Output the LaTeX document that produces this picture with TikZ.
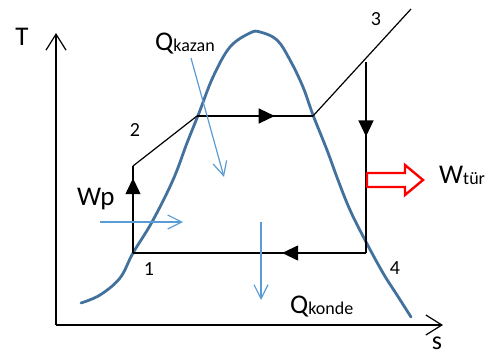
\documentclass[tikz,border=0pt]{standalone}
\usepackage{fontspec}
\setmainfont{Carlito}
\usetikzlibrary{arrows.meta,decorations.markings}
\definecolor{domeblue}{HTML}{41719C}
\definecolor{heatblue}{HTML}{5B9BD5}
\newcommand{\bigtxt}[1]{{\fontsize{27}{29}\selectfont #1}}
\newcommand{\smltxt}[1]{{\fontsize{18}{20}\selectfont #1}}
\begin{document}
\begin{tikzpicture}[x=1pt,y=-1pt,
    cyc/.style={line width=1.2pt,black},
    axis/.style={line width=1.2pt,-{Straight Barb[length=16pt,width=20pt,line width=1.2pt]}},
    heat/.style={heatblue,line width=1.2pt,-{Straight Barb[length=14pt,width=14pt,line width=1.2pt]}},
    midarrow/.style={postaction={decorate},decoration={markings,
        mark=at position #1 with {\arrow{Triangle[length=16pt,width=15pt]}}}},
    num/.style={font=\fontsize{20}{22}\selectfont}]
    \useasboundingbox (0,0) rectangle (496,356);
    % axes
    \coordinate (O) at (56,325);
    \coordinate (Ttop) at (56,33);
    \coordinate (send) at (443,325);
    \draw[axis] (O) -- (Ttop);
    \draw[axis] (O) -- (send);
    \node (Tlbl) at (22,37) {\bigtxt{T}};
    \node[anchor=base,inner sep=0] (slbl) at (437,349) {{\fontsize{26}{26}\selectfont s}};
    % dome
    \draw[domeblue,line width=2.8pt,line cap=round] plot[smooth,tension=0.6] coordinates {
        (81,303) (100,295) (120,278) (133,253) (152,222) (173,180) (187,143)
        (199,113) (213,77) (230,47) (250,33) (260,32) (277,40) (290,60) (303,87)
        (313,115) (327,150) (338,180) (350,210) (365,240) (383,273) (397,295) (411,317)};
    % cycle
    \coordinate (p1) at (133,253);
    \coordinate (p2) at (133,166);
    \coordinate (pf) at (197,116);
    \coordinate (pg) at (313,116);
    \coordinate (p3) at (411,9);
    \coordinate (p3t) at (366,62);
    \coordinate (p4) at (366,253);
    \draw[cyc,midarrow=0.86] (p1) -- (p2);
    \draw[cyc] (p2) -- (pf);
    \draw[cyc,midarrow=0.67] (pf) -- (pg);
    \draw[cyc] (pg) -- (p3);
    \draw[cyc,midarrow=0.39] (p3t) -- (p4);
    \draw[cyc,midarrow=0.36] (p4) -- (p1);
    \node[num] (n1) at (149,269) {1};
    \node[num] (n2) at (135,130) {2};
    \node[num] (n3) at (376,19) {3};
    \node[num] (n4) at (395,268) {4};
    % heat and work
    \coordinate (qk1) at (191,58);
    \coordinate (qk2) at (224,177);
    \coordinate (qp1) at (100,222);
    \coordinate (qp2) at (183,222);
    \coordinate (qc1) at (261,222);
    \coordinate (qc2) at (261,300);
    \draw[heat] (qk1) -- (qk2);
    \draw[heat] (qp1) -- (qp2);
    \draw[heat] (qc1) -- (qc2);
    \node[anchor=base west,inner sep=0] (Qkazan) at (155,50) {\bigtxt{Q}\smltxt{\raisebox{-1pt}{kazan}}};
    \node[anchor=base west,inner sep=0] (Qkonde) at (290,313) {\bigtxt{Q}\smltxt{\raisebox{-1pt}{konde}}};
    \node[anchor=base west,inner sep=0] (Wtur) at (439,183) {\bigtxt{W}\smltxt{\raisebox{-1pt}{tür}}};
    \node[anchor=base west,inner sep=0] (Wp) at (77,205) {\bigtxt{Wp}};
    \draw[red,line width=2.4pt,line join=miter] (367,173) -- (405,173) -- (405,165) -- (423,180)
        -- (405,195) -- (405,187) -- (367,187) -- cycle;
\end{tikzpicture}
\end{document}
